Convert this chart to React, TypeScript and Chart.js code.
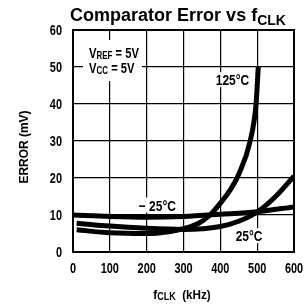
import React, { useEffect, useRef } from "react";
import { Chart, registerables } from "chart.js";

Chart.register(...registerables);

// Data (fCLK in kHz, error in mV)
const xTicks = [0, 100, 200, 300, 400, 500, 600];
const yTicks = [0, 10, 20, 30, 40, 50, 60];

const m25X = [0, 100, 200, 300, 400, 500, 600];
const m25Y = [10.0, 9.6, 9.4, 9.6, 10.2, 10.9, 12.2];

const t25X = [10, 100, 200, 300, 400, 450, 500, 550, 600];
const t25Y = [7.8, 7.0, 6.4, 6.1, 6.9, 8.3, 10.8, 15.0, 20.5];

const t125X = [10, 100, 200, 260, 300, 340, 372, 400, 425, 450, 481, 497, 503];
const t125Y = [6.0, 5.2, 5.0, 5.5, 6.3, 7.7, 10.0, 13.2, 16.5, 21.0, 30.0, 40.0, 50.0];

const FAMILY = '"Liberation Sans", Arial, Helvetica, sans-serif';

type Part = { t: string; size: number; dy?: number };

// draws bold text, horizontally condensed by factor sx (narrow Helvetica look)
function drawRich(
  ctx: CanvasRenderingContext2D,
  x: number,
  y: number,
  parts: Part[],
  align: "left" | "center" | "right",
  sx: number
) {
  ctx.save();
  ctx.textBaseline = "alphabetic";
  ctx.textAlign = "left";
  const widths: number[] = [];
  let total = 0;
  for (const p of parts) {
    ctx.font = `bold ${p.size}px ${FAMILY}`;
    const w = ctx.measureText(p.t).width * sx;
    widths.push(w);
    total += w;
  }
  let cx = align === "center" ? x - total / 2 : align === "right" ? x - total : x;
  parts.forEach((p, i) => {
    ctx.font = `bold ${p.size}px ${FAMILY}`;
    ctx.fillStyle = "#000";
    ctx.save();
    ctx.translate(cx, y + (p.dy || 0));
    ctx.scale(sx, 1);
    ctx.fillText(p.t, 0, 0);
    ctx.restore();
    cx += widths[i];
  });
  ctx.restore();
  return total;
}

const textPlugin = {
  id: "texts",
  beforeDatasetsDraw(chart: any) {
    const ctx: CanvasRenderingContext2D = chart.ctx;
    const xs = chart.scales.x;
    const ys = chart.scales.y;
    ctx.save();
    ctx.fillStyle = "#fff";
    ctx.fillRect(83, 40, 59, 41);
    ctx.restore();
    drawRich(ctx, 89, 58, [{ t: "V", size: 14 }, { t: "REF", size: 10, dy: 1 }, { t: " = 5V", size: 14 }], "left", 0.8);
    drawRich(ctx, 89, 73, [{ t: "V", size: 14 }, { t: "CC", size: 10, dy: 1 }, { t: " = 5V", size: 14 }], "left", 0.8);

    const lbl = (txt: string, xv: number, yv: number) => {
      const px = xs.getPixelForValue(xv);
      const py = ys.getPixelForValue(yv);
      ctx.save();
      ctx.font = `bold 15px ${FAMILY}`;
      const w = ctx.measureText(txt).width * 0.8;
      ctx.fillStyle = "#fff";
      ctx.fillRect(px - w / 2 - 2, py - 13, w + 4, 15);
      ctx.restore();
      drawRich(ctx, px, py, [{ t: txt, size: 15 }], "center", 0.8);
    };
    lbl("125°C", 433, 45.1);
    lbl("\u2212 25°C", 229, 11.2);
    lbl("25°C", 478, 2.9);
  },
  afterDraw(chart: any) {
    const ctx: CanvasRenderingContext2D = chart.ctx;
    const a = chart.chartArea;
    const xs = chart.scales.x;
    const ys = chart.scales.y;
    ctx.save();
    ctx.strokeStyle = "#000";
    ctx.lineWidth = 2;
    ctx.strokeRect(a.left, a.top, a.right - a.left, a.bottom - a.top);
    ctx.restore();
    // tick labels
    xTicks.forEach((v) => {
      drawRich(ctx, xs.getPixelForValue(v), 273, [{ t: String(v), size: 14 }], "center", 0.78);
    });
    yTicks.forEach((v) => {
      drawRich(ctx, 62, ys.getPixelForValue(v) + 5, [{ t: String(v), size: 14 }], "right", 0.78);
    });
    // title
    drawRich(ctx, 178, 21, [{ t: "Comparator Error vs f", size: 18 }, { t: "CLK", size: 14, dy: 4 }], "center", 1);
    // x title
    drawRich(ctx, 182, 299, [{ t: "f", size: 13 }, { t: "CLK", size: 10, dy: 1 }, { t: "  (kHz)", size: 13 }], "center", 0.9);
    // y title
    ctx.save();
    ctx.translate(28, 147);
    ctx.rotate(-Math.PI / 2);
    drawRich(ctx, 0, 0, [{ t: "ERROR (mV)", size: 13 }], "center", 0.92);
    ctx.restore();
  },
};

function pts(xs: number[], ys: number[]) {
  return xs.map((x, i) => ({ x, y: ys[i] }));
}

export default function App() {
  const ref = useRef<HTMLCanvasElement>(null);
  useEffect(() => {
    if (!ref.current) return;
    const ds = (label: string, xs: number[], ys: number[]) => ({
      label,
      data: pts(xs, ys),
      borderColor: "#000",
      backgroundColor: "#000",
      borderWidth: 5,
      pointRadius: 0,
      fill: false,
      cubicInterpolationMode: "monotone" as const,
      borderCapStyle: "butt" as const,
    });
    const chart = new Chart(ref.current, {
      type: "line",
      data: {
        datasets: [ds("-25°C", m25X, m25Y), ds("25°C", t25X, t25Y), ds("125°C", t125X, t125Y)],
      },
      options: {
        responsive: false,
        animation: false,
        events: [],
        layout: { padding: { left: 0, top: 30, right: 13, bottom: 0 } },
        plugins: { legend: { display: false }, tooltip: { enabled: false }, title: { display: false } },
        scales: {
          x: {
            type: "linear",
            min: 0,
            max: 600,
            afterBuildTicks: (s: any) => {
              s.ticks = xTicks.map((v) => ({ value: v }));
            },
            afterFit: (s: any) => {
              s.height = 56;
            },
            ticks: { display: false },
            grid: { color: "#000", lineWidth: 1.2, drawTicks: false },
            border: { color: "#000", width: 2 },
          },
          y: {
            type: "linear",
            min: 0,
            max: 60,
            afterBuildTicks: (s: any) => {
              s.ticks = yTicks.map((v) => ({ value: v }));
            },
            afterFit: (s: any) => {
              s.width = 73;
            },
            ticks: { display: false },
            grid: { color: "#000", lineWidth: 1.2, drawTicks: false },
            border: { color: "#000", width: 2 },
          },
        },
      },
      plugins: [textPlugin],
    });
    return () => chart.destroy();
  }, []);
  return (
    <div style={{ position: "absolute", left: 0, top: 0, width: 307, height: 308, background: "#fff" }}>
      <canvas ref={ref} width={307} height={308} />
    </div>
  );
}
